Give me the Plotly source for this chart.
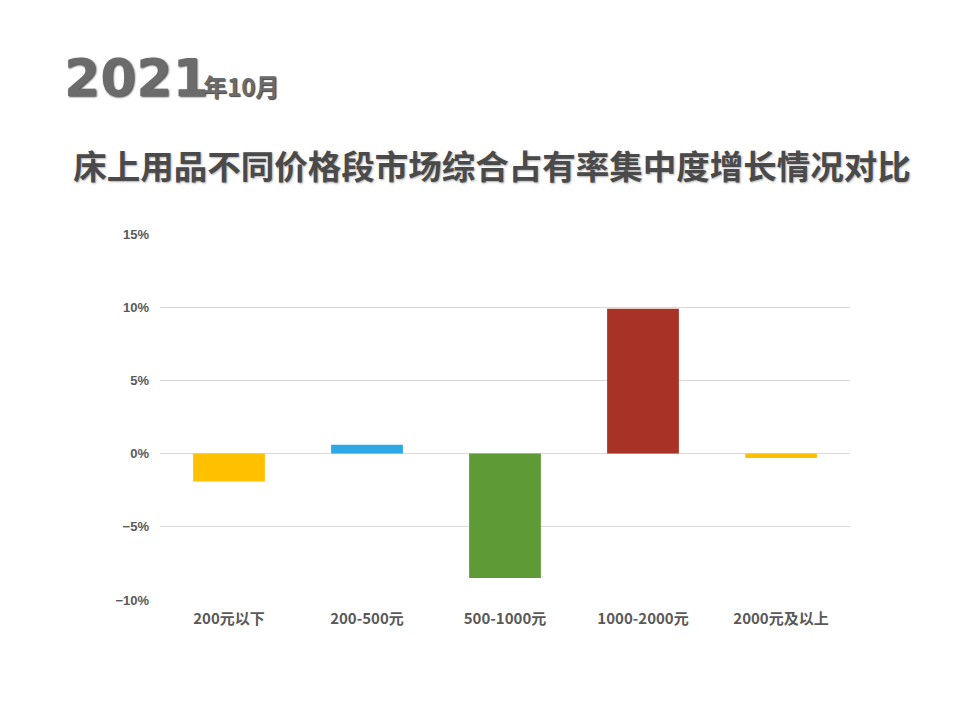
import plotly.graph_objects as go

# -----------------------------
# Data
# -----------------------------

categories = ["200元以下", "200-500元", "500-1000元", "1000-2000元", "2000元及以上"]
growth_pct = [-1.9, 0.6, -8.5, 9.9, -0.3]
bar_colors = ["#FFC000", "#2EA8E5", "#5E9A35", "#A93226", "#FFC000"]

y_ticks = [-10, -5, 0, 5, 10, 15]
y_tick_labels = [f"{v}%".replace("-", "−") for v in y_ticks]

title_text = "床上用品不同价格段市场综合占有率集中度增长情况对比"
year_text = "2021"
month_text = "年10月"

# the page body adds an 8px offset, so margins are shifted back by 8
OFF = 8

# -----------------------------
# Figure
# -----------------------------

fig = go.Figure(
    go.Bar(
        x=categories,
        y=growth_pct,
        marker=dict(color=bar_colors, line=dict(width=0)),
        hoverinfo="x+y",
    )
)

fig.update_layout(
    width=960,
    height=720,
    paper_bgcolor="white",
    plot_bgcolor="white",
    margin=dict(l=160 - OFF, r=110 + OFF, t=234 - OFF, b=120 + OFF),
    bargap=0.48,
    showlegend=False,
    font=dict(family="Noto Sans CJK SC", color="#595959"),
    title=dict(
        text="<b>" + title_text + "</b>",
        x=(492 - OFF) / 960,
        xanchor="center",
        y=1 - (167 - OFF) / 720,
        yanchor="middle",
        font=dict(size=33.5, color="#4a4a4a", shadow="1px 1px 2px #b0b0b0"),
    ),
)

fig.update_yaxes(
    range=[-10, 15],
    tickvals=y_ticks,
    ticktext=y_tick_labels,
    showgrid=True,
    gridcolor="#d9d9d9",
    gridwidth=1,
    zeroline=True,
    zerolinecolor="#d9d9d9",
    zerolinewidth=1,
    showline=False,
    ticks="",
    ticklabelstandoff=10,
    tickfont=dict(family="Liberation Sans", size=13, color="#595959", weight="bold"),
    fixedrange=True,
)

fig.update_xaxes(
    showgrid=False,
    showline=False,
    ticks="",
    ticklabelstandoff=8,
    tickfont=dict(family="Noto Sans CJK SC", size=15, color="#595959", weight="bold"),
    fixedrange=True,
)

# big "2021年10月" header
plot_w = 960 - 160 - 110
plot_h = 720 - 234 - 120
fig.add_annotation(
    xref="paper", yref="paper",
    x=(62 - 160) / plot_w, y=(600 - 110) / plot_h,
    xanchor="left", yanchor="bottom",
    text="<b>" + year_text + "</b>",
    showarrow=False,
    font=dict(family="DejaVu Sans", size=52, color="#6b6b6b", shadow="1px 1px 2px #444"),
)
fig.add_annotation(
    xref="paper", yref="paper",
    x=(201 - 160) / plot_w, y=(600 - 105) / plot_h,
    xanchor="left", yanchor="bottom",
    text="<b>" + month_text + "</b>",
    showarrow=False,
    font=dict(family="Noto Sans CJK SC", size=24, color="#6b6b6b", shadow="1px 1px 1px #444"),
)

fig.write_html("out.html")
